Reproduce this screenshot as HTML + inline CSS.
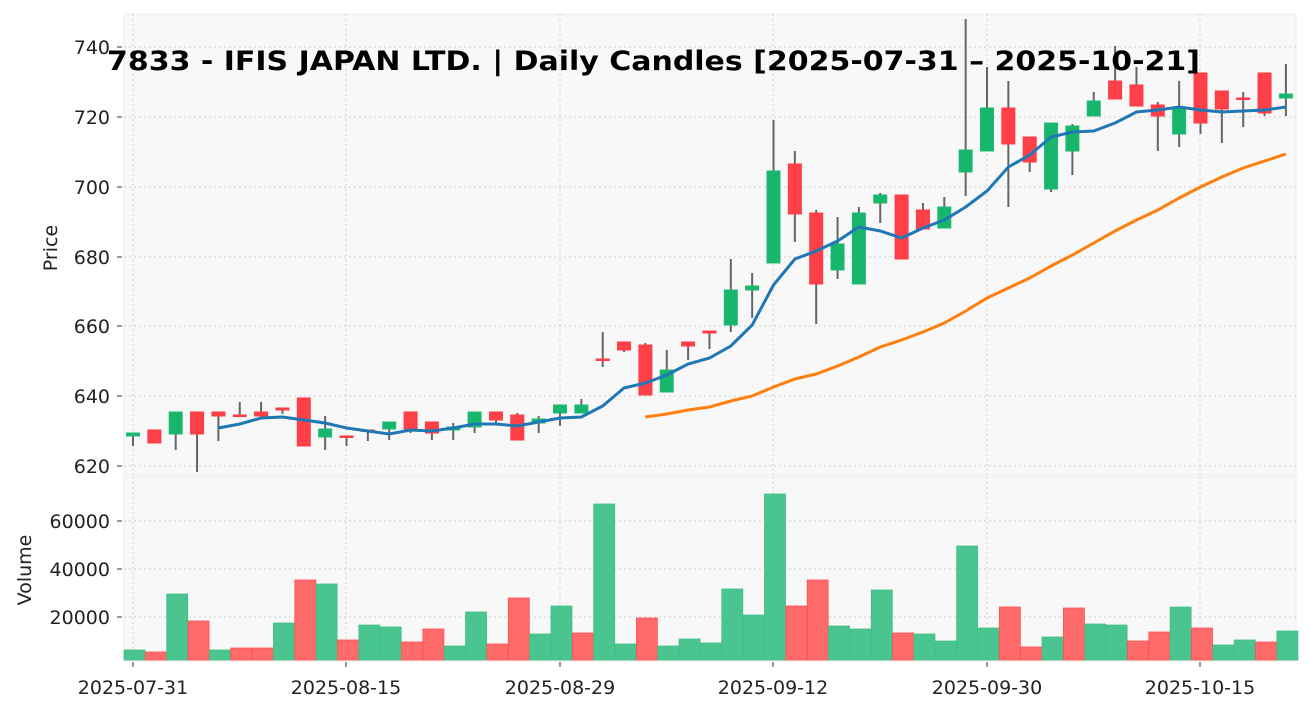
<!DOCTYPE html>
<html><head><meta charset="utf-8"><style>
body{margin:0;background:#fff;}
svg{display:block;font-family:"DejaVu Sans","Liberation Sans",sans-serif;}
</style></head><body>
<svg id="s" width="1311" height="711" viewBox="0 0 1311 711" xmlns="http://www.w3.org/2000/svg">
<rect width="1311" height="711" fill="#fff"/>
<rect x="124" y="14" width="1172" height="461" fill="#f8f8f8" stroke="#ececec"/>
<rect x="124" y="477" width="1172" height="184" fill="#f8f8f8" stroke="#ececec"/>
<g id="grid" stroke="#cfcfcf" stroke-dasharray="2,3" stroke-width="1"></g>
<g id="vol"></g>
<g id="cand"></g>
<polyline id="ma1" fill="none" stroke="#1f77b4" stroke-width="3"/>
<polyline id="ma2" fill="none" stroke="#ff7f0e" stroke-width="3"/>
<g id="ticks" font-size="19" fill="#222"></g>
<text x="57" y="248" font-size="19" fill="#222" text-anchor="middle" transform="rotate(-90 57 248)">Price</text>
<text x="31" y="570" font-size="19" fill="#222" text-anchor="middle" transform="rotate(-90 31 570)">Volume</text>
<text x="107" y="70" font-size="27" font-weight="bold" fill="#000" textLength="1093" lengthAdjust="spacingAndGlyphs">7833 - IFIS JAPAN LTD. | Daily Candles [2025-07-31 – 2025-10-21]</text>
</svg>
<script>
var NS="http://www.w3.org/2000/svg";
function el(p,t,a,txt){var e=document.createElementNS(NS,t);for(var k in a)e.setAttribute(k,a[k]);if(txt)e.textContent=txt;document.getElementById(p).appendChild(e);return e;}
var X=function(i){return 133+i*21.35;};
var C=[[433,436,433,446,'g'],[430,443,430,443,'r'],[412,434,412,450,'g'],[412,434,412,472,'r'],[412,416,412,441,'r'],[415,416,402,416,'r'],[412,416,402,416,'r'],[408,410,408,414,'r'],[398,446,398,446,'r'],[429,437,416,450,'g'],[436,437,436,446,'r'],[430,431,430,441,'r'],[422,429,422,440,'g'],[412,429,412,433,'r'],[422,433,422,440,'r'],[427,430,423,440,'g'],[412,427,412,433,'g'],[412,420,412,424,'r'],[415,440,413,440,'r'],[419,423,416,433,'g'],[405,413,405,426,'g'],[405,413,399,413,'g'],[359,360,332,367,'r'],[342,350,342,352,'r'],[345,395,343,395,'r'],[370,392,350,392,'g'],[342,346,342,360,'r'],[331,333,331,349,'r'],[290,325,259,332,'g'],[286,290,273,318,'g'],[171,263,120,263,'g'],[164,214,151,242,'r'],[213,284,210,324,'r'],[244,270,217,279,'g'],[213,284,207,284,'g'],[195,203,193,223,'g'],[195,259,195,259,'r'],[210,229,203,229,'r'],[207,228,197,228,'g'],[150,172,19,196,'g'],[108,151,67,151,'g'],[108,144,81,207,'r'],[137,162,137,172,'r'],[123,189,123,192,'g'],[126,151,124,175,'g'],[101,116,92,116,'g'],[81,99,46,99,'r'],[85,106,67,106,'r'],[105,116,102,151,'r'],[109,134,81,147,'g'],[73,123,73,134,'r'],[91,109,91,143,'r'],[98,99,92,127,'r'],[73,113,73,116,'r'],[94,98,64,116,'g']];
var V=[[650,'g'],[652,'r'],[594,'g'],[621,'r'],[650,'g'],[648,'r'],[648,'r'],[623,'g'],[580,'r'],[584,'g'],[640,'r'],[625,'g'],[627,'g'],[642,'r'],[629,'r'],[646,'g'],[612,'g'],[644,'r'],[598,'r'],[634,'g'],[606,'g'],[633,'r'],[504,'g'],[644,'g'],[618,'r'],[646,'g'],[639,'g'],[643,'g'],[589,'g'],[615,'g'],[494,'g'],[606,'r'],[580,'r'],[626,'g'],[629,'g'],[590,'g'],[633,'r'],[634,'g'],[641,'g'],[546,'g'],[628,'g'],[607,'r'],[647,'r'],[637,'g'],[608,'r'],[624,'g'],[625,'g'],[641,'r'],[632,'r'],[607,'g'],[628,'r'],[645,'g'],[640,'g'],[642,'r'],[631,'g']];
[466,396,326,257,187,117,47].forEach(function(y){el('grid','line',{x1:124,x2:1296,y1:y,y2:y});});
[617,569,521].forEach(function(y){el('grid','line',{x1:124,x2:1296,y1:y,y2:y});});
[133,346,560,773,987,1200].forEach(function(x){el('grid','line',{x1:x,x2:x,y1:14,y2:475});el('grid','line',{x1:x,x2:x,y1:477,y2:660});});
V.forEach(function(v,i){var x=X(i)-9;el('vol','rect',{x:x,y:v[0],width:21,height:660-v[0],fill:v[1]=='g'?'#4bc58f':'#ff6b6b',stroke:v[1]=='g'?'#3fc085':'#ff5050','stroke-width':0.8});});
C.forEach(function(c,i){var x=X(i);el('cand','line',{x1:x,x2:x,y1:c[2],y2:c[3],stroke:'#666','stroke-width':2});var h=Math.max(c[1]-c[0],1.5);el('cand','rect',{x:x-6.5,y:c[0],width:13,height:h,fill:c[4]=='g'?'#18b66c':'#ff4049',stroke:c[4]=='g'?'#1dbb70':'#ff3a44','stroke-width':1});});
var m1=[428,424,418,417,420,423,428,431,434,430,431,428,424,424,426,422,418,417,406,388,383,375,364,358,346,325,285,259,251,241,227,231,238,228,220,207,191,167,155,137,132,131,123,112,110,107,110,112,111,110,107];
document.getElementById('ma1').setAttribute('points',m1.map(function(y,k){return X(k+4).toFixed(1)+','+y;}).join(' '));
var m2=[417,414,410,407,401,396,387,379,374,366,357,347,340,332,323,311,298,288,278,266,255,243,231,220,210,198,187,177,168,161,154];
document.getElementById('ma2').setAttribute('points',m2.map(function(y,k){return X(k+24).toFixed(1)+','+y;}).join(' '));
var pt=[[466,'620'],[396,'640'],[326,'660'],[257,'680'],[187,'700'],[117,'720'],[47,'740']];
pt.concat([[617,'20000'],[569,'40000'],[521,'60000']]).forEach(function(p){el('ticks','text',{x:110,y:p[0]+7,'text-anchor':'end'},p[1]);el('ticks','line',{x1:117,x2:122,y1:p[0],y2:p[0],stroke:'#333'});});
[[133,'2025-07-31'],[346,'2025-08-15'],[560,'2025-08-29'],[773,'2025-09-12'],[987,'2025-09-30'],[1200,'2025-10-15']].forEach(function(p){el('ticks','text',{x:p[0],y:694,'text-anchor':'middle'},p[1]);el('ticks','line',{x1:p[0],x2:p[0],y1:662,y2:667,stroke:'#333'});});
</script>
</body></html>
